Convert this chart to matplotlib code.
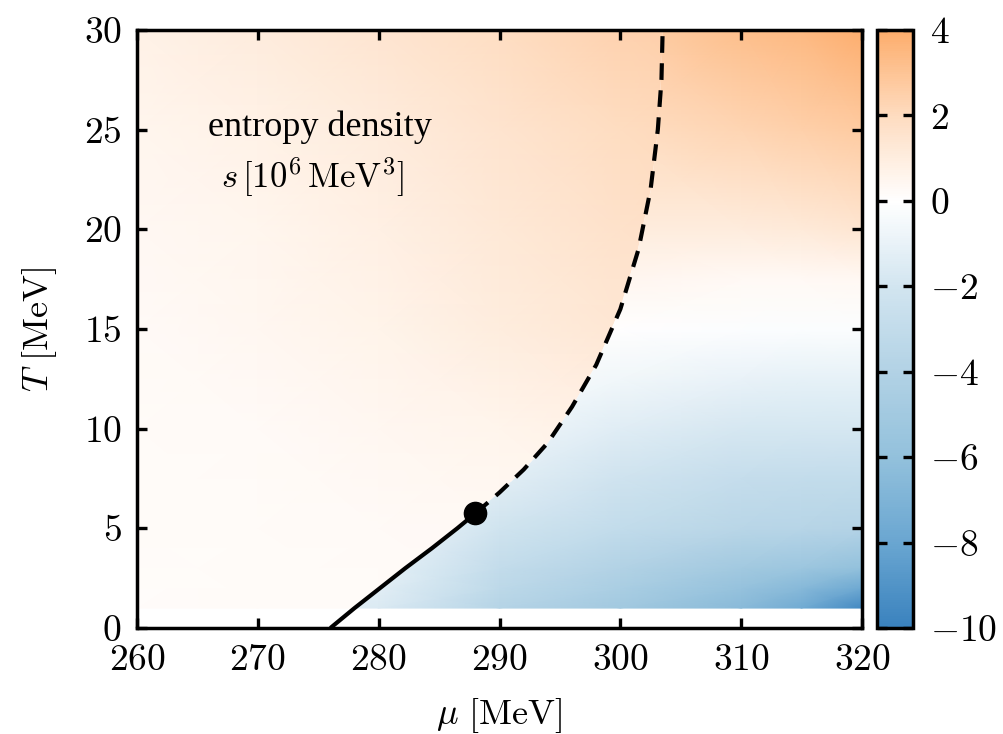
import numpy as np
import matplotlib.pyplot as plt
from matplotlib.colors import LinearSegmentedColormap, Normalize
from matplotlib.patches import Polygon

plt.rcParams.update({
    'font.family': 'serif',
    'font.serif': ['cmr10'],
    'mathtext.fontset': 'cm',
    'axes.formatter.use_mathtext': True,
})

# low-density branch (left of the transition line)
mu_lo = [260, 270, 280, 290, 300, 310]
T_lo = [1, 5, 10, 15, 20, 25, 30]
s_lo = [
    [0.15, 0.18, 0.22, 0.25, 0.28, 0.30],
    [0.18, 0.20, 0.25, 0.32, 0.40, 0.45],
    [0.20, 0.28, 0.40, 0.60, 0.80, 0.90],
    [0.25, 0.40, 0.65, 1.00, 1.35, 1.50],
    [0.35, 0.55, 0.85, 1.25, 1.60, 1.80],
    [0.50, 0.75, 1.10, 1.50, 1.95, 2.20],
    [0.75, 1.05, 1.45, 1.90, 2.40, 2.70],
]

# high-density branch (right of the transition line)
mu_hi = [275, 280, 290, 300, 310, 315, 320]
T_hi = [1, 2, 3, 5, 7.5, 10, 12.5, 15, 17.5, 20, 25, 30]
s_hi = [
    [-1.2, -1.6, -3.8, -5.0, -6.5, -7.6, -9.6],
    [-1.0, -1.3, -3.3, -4.5, -5.8, -6.6, -7.8],
    [-0.8, -1.1, -2.9, -4.0, -5.0, -5.4, -6.0],
    [-0.6, -0.8, -2.1, -3.0, -3.6, -3.7, -3.9],
    [-0.3, -0.5, -1.3, -2.2, -2.8, -2.9, -3.0],
    [-0.1, -0.2, -0.7, -1.4, -1.8, -1.9, -1.9],
    [0.0, 0.0, -0.2, -0.6, -1.0, -1.1, -1.1],
    [0.2, 0.2, 0.2, 0.05, -0.15, -0.2, -0.2],
    [0.5, 0.5, 0.5, 0.45, 0.3, 0.3, 0.35],
    [0.9, 0.9, 1.0, 1.0, 1.1, 1.2, 1.4],
    [1.6, 1.6, 1.8, 1.9, 2.3, 2.5, 2.7],
    [2.2, 2.2, 2.4, 2.5, 3.2, 3.5, 3.9],
]

# first-order line up to the critical point, then the crossover
first_mu = [276.0, 278.0, 280.1, 282.2, 284.4, 286.5, 288.0]
first_T = [0.0, 1.0, 2.0, 3.0, 4.0, 5.0, 5.75]
cross_mu = [288.0, 290.0, 292.0, 294.0, 296.0, 298.0, 300.0, 301.5, 302.5,
            303.1, 303.4, 303.5]
cross_T = [5.75, 6.8, 7.95, 9.3, 11.1, 13.2, 16.0, 19.0, 22.0, 25.0, 27.5,
           30.0]
cep = (288.0, 5.75)

cmap = LinearSegmentedColormap.from_list('s_div', [
    (0.0, '#3a82be'), (2 / 14, '#6aa6d1'), (4 / 14, '#93c1dc'),
    (6 / 14, '#b2d2e5'), (8 / 14, '#d2e5f0'), (10 / 14, '#ffffff'),
    (12 / 14, '#fedcc0'), (1.0, '#fdad6c')])
norm = Normalize(-10, 4)

fig = plt.figure(figsize=(10.04, 7.34), dpi=100)
ax = fig.add_axes([0.1365, 0.1444, 0.7221, 0.8147])
cax = fig.add_axes([0.8735, 0.1444, 0.0359, 0.8147])

m_lo = ax.pcolormesh(mu_lo, T_lo, np.array(s_lo), cmap=cmap, norm=norm,
                     shading='gouraud')
m_hi = ax.pcolormesh(mu_hi, T_hi, np.array(s_hi), cmap=cmap, norm=norm,
                     shading='gouraud')

bx = first_mu + cross_mu[1:]
by = first_T + cross_T[1:]
right = Polygon(list(zip(bx, by)) + [(325, 31), (325, -1)],
                closed=True, transform=ax.transData)
left = Polygon(list(zip(bx, by)) + [(255, 31), (255, -1)],
               closed=True, transform=ax.transData)
m_hi.set_clip_path(right)
m_lo.set_clip_path(left)

ax.plot(first_mu, first_T, color='black', lw=3.0, solid_capstyle='butt',
        solid_joinstyle='round')
ax.plot(cross_mu, cross_T, color='black', lw=3.0, dashes=(4, 2.5))
ax.plot(*cep, 'o', color='black', ms=16)

ax.text(275.1, 25.1, 'entropy density', ha='center', va='center',
        fontsize=26, family='Liberation Serif')
ax.text(274.5, 22.6, r'$s\,[10^6\,\mathrm{MeV}^3]$', ha='center',
        va='center', fontsize=25)

ax.set_xlim(260, 320)
ax.set_ylim(0, 30)
ax.set_xticks(range(260, 321, 10))
ax.set_yticks(range(0, 31, 5))
ax.tick_params(direction='in', top=True, right=True, length=7, width=2.4,
               labelsize=27, pad=11)
for sp in ax.spines.values():
    sp.set_linewidth(2.5)
ax.set_xlabel(r'$\mu\ [\mathrm{MeV}]$', fontsize=26, labelpad=14)
ax.set_ylabel(r'$T\ [\mathrm{MeV}]$', fontsize=26, labelpad=18)

cb = fig.colorbar(m_hi, cax=cax, ticks=range(-10, 5, 2))
cb.outline.set_linewidth(2.5)
cax.tick_params(direction='in', left=True, right=True, length=7, width=2.4,
                labelsize=27, pad=12)

fig.savefig('out.png', dpi=100)
